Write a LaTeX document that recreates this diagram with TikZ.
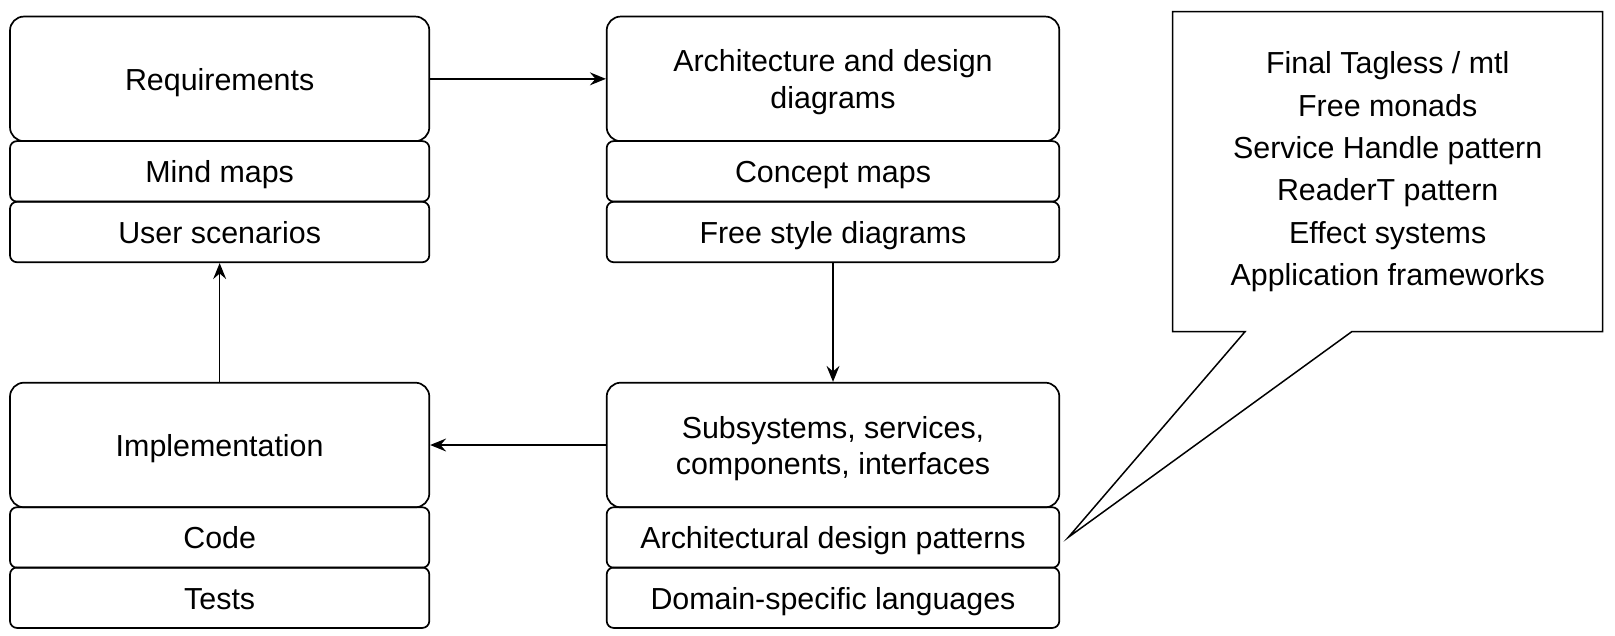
\documentclass[tikz,border=0pt]{standalone}
\usepackage{fontspec}
\setmainfont{Liberation Sans}
\usetikzlibrary{arrows.meta}
\newcommand\boxtext[1]{\raisebox{-2pt}[\height][\depth]{\begin{tabular}{@{}c@{}}#1\end{tabular}}}
\begin{document}
\begin{tikzpicture}[x=0.5pt,y=-0.5pt,
  every node/.style={font=\fontsize{15.2pt}{18.25pt}\selectfont},
  bigbox/.style={draw=black, line width=0.85pt, rounded corners=7pt, inner sep=0pt},
  smallbox/.style={draw=black, line width=0.85pt, rounded corners=3.5pt, inner sep=0pt},
  lcol/.style={minimum width=209.65pt},
  mcol/.style={minimum width=226.3pt},
  tall/.style={minimum height=62.3pt},
  short/.style={minimum height=30.25pt},
  conn/.style={draw=black, line width=0.7pt, -{Stealth[length=8pt,width=6.5pt,inset=2.8pt]}},
  callout/.style={draw=black, line width=0.75pt, fill=white, line join=miter}
]
\useasboundingbox (0,0) rectangle (1615,636);

% left column
\node[bigbox,lcol,tall] (req) at (219.65,78.85) {\boxtext{Requirements}};
\node[smallbox,lcol,short] (mind) at (219.65,171.35) {\boxtext{Mind maps}};
\node[smallbox,lcol,short] (user) at (219.65,232) {\boxtext{User scenarios}};
\node[bigbox,lcol,tall] (impl) at (219.65,445) {\boxtext{Implementation}};
\node[smallbox,lcol,short] (code) at (219.65,537.5) {\boxtext{Code}};
\node[smallbox,lcol,short] (tests) at (219.65,597.7) {\boxtext{Tests}};

% middle column
\node[bigbox,mcol,tall] (arch) at (833,78.85) {\boxtext{Architecture and design\\diagrams}};
\node[smallbox,mcol,short] (concept) at (833,171.35) {\boxtext{Concept maps}};
\node[smallbox,mcol,short] (free) at (833,232) {\boxtext{Free style diagrams}};
\node[bigbox,mcol,tall] (sub) at (833,445) {\boxtext{Subsystems, services,\\components, interfaces}};
\node[smallbox,mcol,short] (adp) at (833,537.5) {\boxtext{Architectural design patterns}};
\node[smallbox,mcol,short] (dsl) at (833,597.7) {\boxtext{Domain-specific languages}};

% connectors
\draw[conn] (req.east) -- (arch.west);
\draw[conn] (free.south) -- (sub.north);
\draw[conn] (sub.west) -- (impl.east);
\draw[conn] (impl.north) -- (user.south);

% callout
\coordinate (tip) at (1068.3,537.3);
\draw[callout] (1172.7,11.7) -- (1602.7,11.7) -- (1602.7,331.7) -- (1351.7,331.7)
  -- (tip) -- (1245,331.7) -- (1172.7,331.7) -- cycle;
\node[align=center, inner sep=0pt, font=\fontsize{15.2pt}{21.15pt}\selectfont] (list) at (1387.7,171.7)
  {Final Tagless / mtl\\Free monads\\Service Handle pattern\\ReaderT pattern\\Effect systems\\Application frameworks};
\end{tikzpicture}
\end{document}
